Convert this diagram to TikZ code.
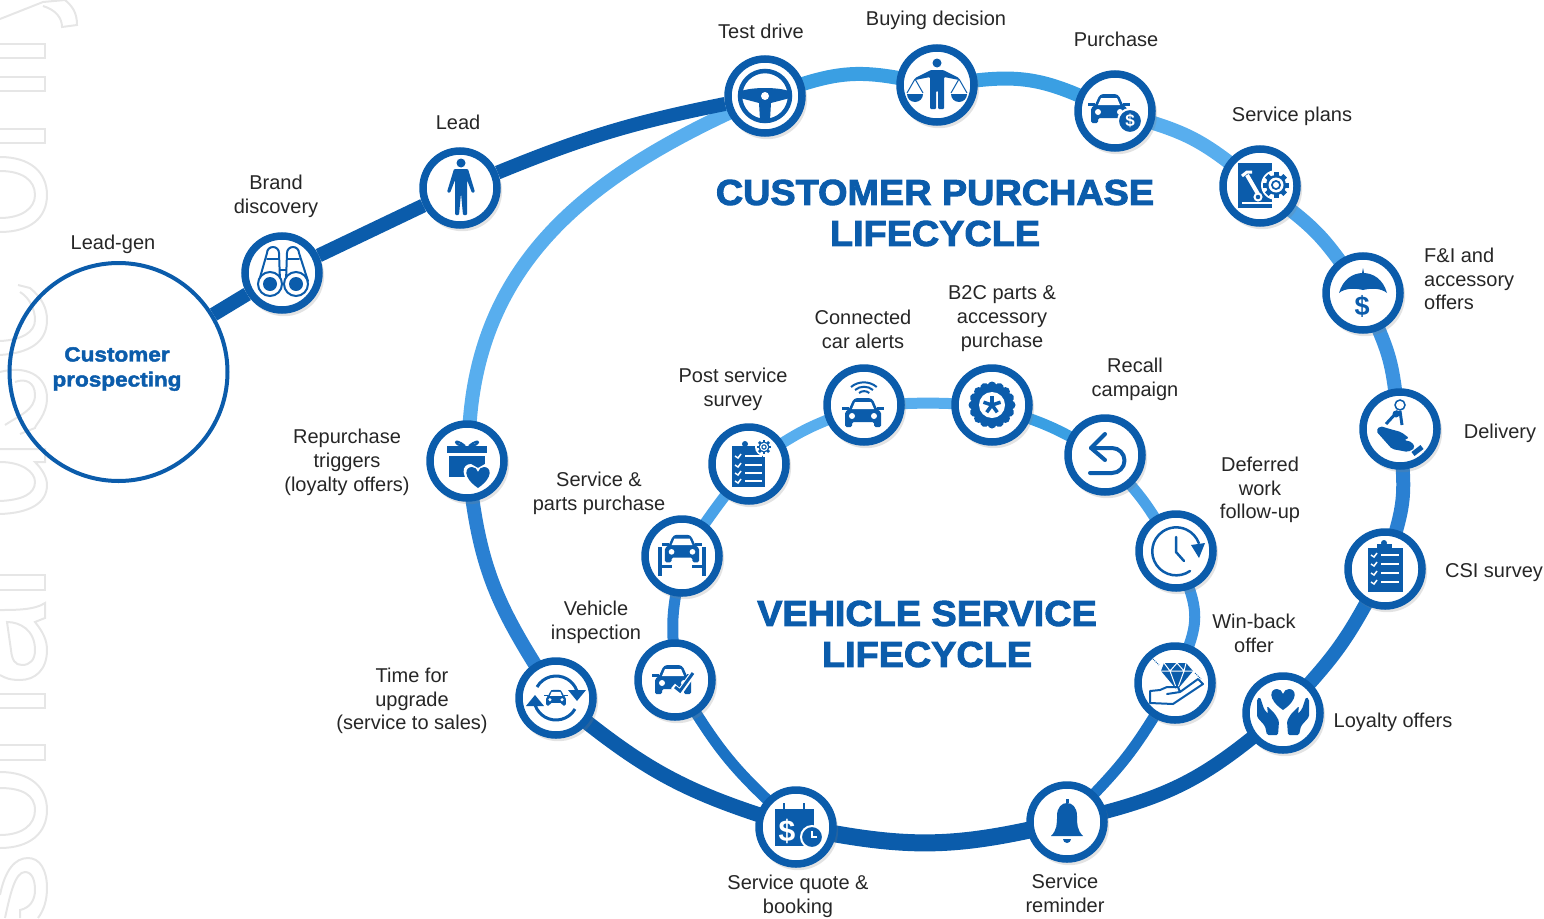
\documentclass[tikz,border=0pt]{standalone}
\usepackage{fontspec}
\setmainfont{Liberation Sans}
\newfontfamily\heavyfont{Liberation Sans Bold}[FakeBold=2.6,FakeStretch=1.05]
\newfontfamily\widefont{Liberation Sans Bold}[FakeBold=2.2,FakeStretch=1.1]
\usetikzlibrary{backgrounds,shadows}
\definecolor{ringblue}{HTML}{0B5CAB}
\definecolor{skyblue}{HTML}{58AEEE}
\definecolor{topblue}{HTML}{3A9FE3}
\definecolor{sideblue}{HTML}{4AA2E8}
\definecolor{midblue}{HTML}{3C93E0}
\definecolor{lowblue}{HTML}{2A80D2}
\definecolor{deepblue}{HTML}{1B72C4}
\definecolor{markgrey}{HTML}{E6E6E6}
\tikzset{
	stage/.style={circle, draw=ringblue, line width=7.5pt, fill=white, minimum size=74pt, inner sep=0pt,
		drop shadow={shadow xshift=2pt, shadow yshift=-3pt, shadow scale=1.08, opacity=0.22}},
	track/.style={line width=14pt, shorten >=-3pt, shorten <=-3pt},
	innertrack/.style={line width=11pt, shorten >=-3pt, shorten <=-3pt},
	caption/.style={align=center, text=black!85, font=\fontsize{20}{23.7}\selectfont},
	heading/.style={align=center, text=ringblue, font=\heavyfont\fontsize{36}{41}\selectfont},
	ico/.style={fill=ringblue},
	icoline/.style={draw=ringblue, line width=2.5pt, line cap=round, line join=round},
	ghost/.style={draw=markgrey, line width=2pt}
}
\newcommand{\icocar}{
	\fill[ico, rounded corners=1.5pt] (-18,-14) -- (-18,1) -- (-14,4) -- (-10,13) -- (-7,15) -- (7,15) -- (10,13) -- (14,4) -- (18,1) -- (18,-14) -- (11,-14) -- (11,-9) -- (-11,-9) -- (-11,-14) -- cycle;
	\fill[ico] (-21,6) rectangle (-14,3);
	\fill[ico] (14,6) rectangle (21,3);
	\fill[white] (-8,11) -- (8,11) -- (11,4) -- (-11,4) -- cycle;
	\fill[white] (-11,-3) circle(3);
	\fill[white] (11,-3) circle(3);
}
\newcommand{\icoheart}{
	\fill[ico] (0,-10) .. controls (-16,1) and (-13,11) .. (-6,11) .. controls (-3,11) and (-1,9) .. (0,6) .. controls (1,9) and (3,11) .. (6,11) .. controls (13,11) and (16,1) .. (0,-10);
}
\newcommand{\icogear}{
	\foreach \a in {0,45,...,315}
		\fill[ico, rotate=\a] (-2.5,8) rectangle (2.5,13);
	\fill[ico] (0,0) circle(10);
	\fill[white] (0,0) circle(7.5);
	\fill[ico] (0,0) circle(5);
	\fill[white] (0,0) circle(3);
}
\begin{document}
\begin{tikzpicture}[x=1pt, y=1pt]
	\useasboundingbox (0,0) rectangle (1544,-918);

	\node[stage] (brand) at (282,-273) {};
	\node[stage] (lead) at (460,-188) {};
	\node[stage] (test) at (765,-96) {};
	\node[stage] (buying) at (937,-85) {};
	\node[stage] (purchase) at (1115,-111) {};
	\node[stage] (plans) at (1260,-186) {};
	\node[stage] (fi) at (1363,-293) {};
	\node[stage] (delivery) at (1400,-429) {};
	\node[stage] (csi) at (1385,-569) {};
	\node[stage] (loyalty) at (1283,-713) {};
	\node[stage] (reminder) at (1067,-822) {};
	\node[stage] (quote) at (796,-827) {};
	\node[stage] (upgrade) at (556,-698) {};
	\node[stage] (repurchase) at (467,-461) {};
	\node[stage] (inspection) at (675,-680) {};
	\node[stage] (parts) at (682,-556) {};
	\node[stage] (post) at (749,-464) {};
	\node[stage] (connected) at (864,-405) {};
	\node[stage] (btoc) at (992,-405) {};
	\node[stage] (recall) at (1105,-455) {};
	\node[stage] (deferred) at (1176,-551) {};
	\node[stage] (winback) at (1175,-683) {};
	\node[circle, draw=ringblue, line width=4pt, minimum size=218pt, inner sep=0pt] (prospect) at (118.5,-372) {};

	\begin{scope}[on background layer]
		\draw[ghost] (0,-19) -- (43,-2) -- (65,0) (65,0) .. controls (72,-6) and (77,-12) .. (77,-25) -- (62,-27) .. controls (62,-18) and (56,-10) .. (43,-6);
		\draw[ghost] (-5,-44) rectangle (45,-58);
		\draw[ghost] (-5,-77) rectangle (45,-91);
		\draw[ghost] (-5,-129) rectangle (45,-143);
		\draw[ghost] (0,-157) .. controls (30,-157) and (47,-172) .. (47,-195) .. controls (47,-218) and (30,-232) .. (0,-232);
		\draw[ghost] (0,-171) .. controls (22,-171) and (35,-180) .. (35,-195) .. controls (35,-208) and (22,-218) .. (0,-218);
		\draw[ghost] (18,-285) -- (30,-288) .. controls (42,-298) and (47,-308) .. (47,-320) .. controls (47,-342) and (30,-353) .. (0,-355);
		\draw[ghost] (20,-292) .. controls (30,-298) and (35,-310) .. (35,-320) .. controls (35,-332) and (22,-340) .. (0,-341);
		\draw[ghost] (0,-372) .. controls (25,-365) and (47,-375) .. (47,-398) .. controls (47,-415) and (35,-425) .. (35,-428) -- (20,-434);
		\draw[ghost] (5,-425) .. controls (20,-415) and (35,-410) .. (35,-395) .. controls (35,-382) and (25,-378) .. (15,-382);
		\draw[ghost] (0,-449) -- (45,-449) -- (45,-462) -- (35,-462) .. controls (43,-470) and (47,-478) .. (47,-485) .. controls (47,-503) and (30,-513) .. (0,-514);
		\draw[ghost] (0,-462) .. controls (22,-462) and (35,-472) .. (35,-482) .. controls (35,-494) and (22,-500) .. (0,-501);
		\draw[ghost] (-5,-575) rectangle (45,-590);
		\draw[ghost] (0,-610) .. controls (15,-610) and (35,-610) .. (45,-603) -- (45,-618) -- (35,-622) .. controls (43,-632) and (47,-640) .. (47,-650) .. controls (47,-670) and (35,-680) .. (20,-680) .. controls (10,-680) and (5,-678) .. (0,-675);
		\draw[ghost] (7,-622) .. controls (20,-622) and (35,-630) .. (35,-650) .. controls (35,-660) and (30,-665) .. (22,-665) .. controls (15,-665) and (12,-660) .. (11,-650) -- cycle;
		\draw[ghost] (-5,-694) rectangle (45,-708);
		\draw[ghost] (-5,-745) rectangle (45,-760);
		\draw[ghost] (0,-772) .. controls (30,-772) and (47,-787) .. (47,-810) .. controls (47,-833) and (30,-848) .. (0,-848);
		\draw[ghost] (0,-788) .. controls (22,-788) and (35,-795) .. (35,-810) .. controls (35,-825) and (22,-835) .. (0,-835);
		\draw[ghost] (0,-895) .. controls (5,-870) and (15,-858) .. (28,-858) .. controls (40,-858) and (47,-870) .. (47,-888) .. controls (47,-900) and (44,-910) .. (38,-918);
		\draw[ghost] (5,-918) .. controls (10,-895) and (15,-872) .. (25,-872) .. controls (32,-872) and (35,-880) .. (35,-890) .. controls (35,-900) and (30,-908) .. (20,-910) -- (20,-918);

		\draw[line width=14pt, ringblue] (prospect) -- (brand);
		\draw[line width=14pt, ringblue] (brand) -- (lead);
		\draw[track, skyblue] (repurchase) to[out=86, in=205] (test);
		\draw[line width=14pt, ringblue] (lead) to[bend left=5.5] (test);
		\draw[track, topblue] (test) to[bend left=14] (buying);
		\draw[track, topblue] (buying) to[bend left=15] (purchase);
		\draw[track, skyblue] (purchase) to[bend left=10] (plans);
		\draw[track, sideblue] (plans) to[bend left=8] (fi);
		\draw[track, midblue] (fi) to[bend left=8] (delivery);
		\draw[track, lowblue] (delivery) to[bend left=10] (csi);
		\draw[track, deepblue] (csi) to[bend left=6.5] (loyalty);
		\draw[track, ringblue] (loyalty) to[bend left=12] (reminder);
		\draw[track, ringblue, line width=17pt] (reminder) to[bend left=11] (quote);
		\draw[track, ringblue, line width=15pt] (quote) to[bend left=10] (upgrade);
		\draw[track, lowblue] (upgrade) to[out=122, in=-82] (repurchase);

		\draw[innertrack, deepblue] (quote) to[bend left=7] (inspection);
		\draw[innertrack, lowblue] (inspection) to[bend left=6] (parts);
		\draw[innertrack, sideblue] (parts) to[bend left=1] (post);
		\draw[innertrack, skyblue] (post) to[bend left=5] (connected);
		\draw[innertrack, skyblue] (connected) to[bend left=2] (btoc);
		\draw[innertrack, topblue] (btoc) to[bend left=4] (recall);
		\draw[innertrack, sideblue] (recall) to[bend left=4] (deferred);
		\draw[innertrack, midblue] (deferred) to[bend left=20] (winback);
		\draw[innertrack, deepblue] (winback) to[bend left=6] (reminder);
	\end{scope}

	\begin{scope}[shift={(brand)}]
		\draw[icoline, line width=2pt] (-23,-8) -- (-15,20) arc (180:0:6) -- (-2,-8);
		\draw[icoline, line width=2pt] (4,-8) -- (5,20) arc (180:0:6) -- (26,-8);
		\draw[icoline, line width=2pt] (-15,14) -- (-3,14) (5,14) -- (17,14) (-2,3) -- (4,3);
		\fill[white, draw=ringblue, line width=2pt] (-12,-11) circle(12);
		\fill[white, draw=ringblue, line width=2pt] (14,-11) circle(12);
		\fill[ico] (-12,-11) circle(7);
		\fill[ico] (14,-11) circle(7);
	\end{scope}

	\begin{scope}[shift={(lead)}]
		\fill[ico] (1,25) circle(4.5);
		\fill[ico, rounded corners=1pt] (-6,19) -- (8,19) -- (15,-4) -- (12,-5) -- (7,8) -- (7,-27) -- (3,-27) -- (1,-5) -- (-1,-27) -- (-5,-27) -- (-5,8) -- (-10,-5) -- (-13,-4) -- cycle;
	\end{scope}

	\begin{scope}[shift={(test)}]
		\draw[ringblue, line width=4.5pt] (0,0) circle(25);
		\fill[ico] (-24,5) .. controls (-12,9) and (12,9) .. (24,5) -- (25,-2) -- (6,-7) -- (5,-24) -- (-5,-24) -- (-6,-7) -- (-25,-2) -- cycle;
		\fill[white] (0,0) circle(4);
	\end{scope}

	\begin{scope}[shift={(buying)}]
		\fill[ico] (0,22) circle(4.5);
		\fill[ico, rounded corners=1pt] (-6,15) -- (6,15) -- (22,7) -- (22,5) -- (7,8) -- (7,-24) -- (1,-24) -- (1,-6) -- (-1,-6) -- (-1,-24) -- (-7,-24) -- (-7,8) -- (-22,5) -- (-22,7) -- cycle;
		\foreach \s in {1,-1} {
			\draw[ringblue, line width=1pt] (\s*22,6) -- (\s*22-8,-8) (\s*22,6) -- (\s*22+8,-8);
			\fill[ico] (\s*22-8,-9) arc (180:360:8);
		}
	\end{scope}

	\begin{scope}[shift={(purchase)}]
		\begin{scope}[shift={(-6,2)}]
			\icocar
		\end{scope}
		\fill[ico, draw=white, line width=2pt] (15,-10) circle(12);
		\node[text=white, font=\bfseries\fontsize{17}{17}\selectfont, inner sep=0pt] (purchasedollar) at (15,-10) {\$};
	\end{scope}

	\begin{scope}[shift={(plans)}]
		\fill[ico] (-22,23) -- (12,23) -- (12,-22) -- (-22,-22) -- cycle;
		\draw[white, line width=1.5pt] (-18,-17) -- (13,-17);
		\draw[white, line width=4pt] (-13,11) -- (-2,-8);
		\draw[white, line width=2pt] (-2,-11) circle(3.5);
		\draw[white, line width=3pt] (-18,10) -- (-13,14) -- (-8,14);
		\fill[white] (16,1) circle(15);
		\begin{scope}[shift={(16,1)}]
			\icogear
		\end{scope}
	\end{scope}

	\begin{scope}[shift={(fi)}]
		\fill[ico] (-24,0) .. controls (-20,14) and (-10,20) .. (0,20) .. controls (10,20) and (20,14) .. (24,0) .. controls (18,5) and (8,5) .. (0,3) .. controls (-8,5) and (-18,5) .. (-24,0);
		\fill[ico] (-1,20) -- (0,25) -- (1,20) -- cycle;
		\node[text=ringblue, font=\bfseries\fontsize{27}{27}\selectfont, inner sep=0pt] (fidollar) at (-1,-13) {\$};
	\end{scope}

	\begin{scope}[shift={(delivery)}]
		\draw[ringblue, line width=1.5pt] (0,24) circle(5);
		\draw[ringblue, line width=3pt] (-2,18) -- (-14,5) (0,18) -- (2,4);
		\fill[ico] (-4,15) circle(3.5);
		\fill[ico, rounded corners=2pt] (-24,-2) -- (-20,3) -- (-10,0) -- (1,-3) -- (9,-9) -- (4,-11) -- (12,-13) -- (15,-19) -- (8,-23) -- (-8,-20) -- cycle;
		\draw[ringblue, line width=5pt] (13,-25) -- (22,-18);
	\end{scope}

	\begin{scope}[shift={(csi)}]
		\fill[ico] (-17,21) rectangle (18,-23);
		\fill[ico] (-8,21) rectangle (7,25);
		\fill[ico] (-1,26) circle(3);
		\foreach \yy in {14,5,-4,-13} {
			\draw[white, line width=1.5pt] (-14,\yy) -- (-11,\yy-2) -- (-8,\yy+2);
			\draw[white, line width=1.5pt] (-4,\yy) -- (14,\yy);
		}
	\end{scope}

	\begin{scope}[shift={(loyalty)}]
		\begin{scope}[shift={(0,13)}]
			\icoheart
		\end{scope}
		\foreach \s in {1,-1} {
			\begin{scope}[xscale=\s]
				\fill[ico, rounded corners=1.5pt] (23,16) -- (26,14) -- (26,-4) -- (18,-13) -- (16,-22) -- (5,-22) -- (4,-8) -- (8,-1) -- (16,7) -- (15,-1) -- (19,4) -- cycle;
			\end{scope}
		}
	\end{scope}

	\begin{scope}[shift={(reminder)}]
		\fill[ico] (-1.5,19) rectangle (1.5,23);
		\fill[ico] (-16,-14) .. controls (-10,-8) and (-10,-2) .. (-10,6) .. controls (-10,15) and (-5,19) .. (0,19) .. controls (5,19) and (10,15) .. (10,6) .. controls (10,-2) and (10,-8) .. (16,-14) -- cycle;
		\fill[ico] (-4,-17) arc (180:360:4);
	\end{scope}

	\begin{scope}[shift={(quote)}]
		\fill[ico] (-21,18) rectangle (18,-19);
		\draw[white, line width=4pt] (-12,18) -- (-12,25) (8,18) -- (8,25);
		\draw[ringblue, line width=2pt] (-12,17) -- (-12,24) (8,17) -- (8,24);
		\node[text=white, font=\bfseries\fontsize{30}{30}\selectfont, inner sep=0pt] (quotedollar) at (-9,-4) {\$};
		\fill[ico, draw=white, line width=2pt] (16,-10) circle(11);
		\draw[white, line width=1.5pt] (16,-4) -- (16,-10) -- (21,-10);
	\end{scope}

	\begin{scope}[shift={(upgrade)}]
		\begin{scope}[scale=0.55]
			\icocar
		\end{scope}
		\draw[ringblue, line width=3pt] (-19,11) arc (150:20:22);
		\draw[ringblue, line width=3pt] (19,-11) arc (-30:-160:22);
		\fill[ico] (12,8) -- (30,8) -- (21,-3) -- cycle;
		\fill[ico] (-12,-8) -- (-30,-8) -- (-21,3) -- cycle;
	\end{scope}

	\begin{scope}[shift={(repurchase)}]
		\draw[ringblue, line width=2pt] (-2,15) .. controls (-14,25) and (-14,15) .. (-2,15);
		\draw[ringblue, line width=2pt] (2,15) .. controls (14,25) and (14,15) .. (2,15);
		\fill[ico] (-20,15) rectangle (20,8);
		\fill[ico] (-18,5) rectangle (18,-16);
		\begin{scope}[shift={(11,-17)}]
			\fill[white] (0,-14) .. controls (-20,2) and (-16,14) .. (-7,14) -- (0,10) -- (7,14) .. controls (16,14) and (20,2) .. (0,-14);
			\icoheart
		\end{scope}
	\end{scope}

	\begin{scope}[shift={(inspection)}]
		\begin{scope}[shift={(-2,0)}]
			\icocar
		\end{scope}
		\draw[white, line width=6pt] (-2,-6) -- (5,-12) -- (19,8);
		\draw[ringblue, line width=3pt] (0,-7) -- (5,-11) -- (18,7);
	\end{scope}

	\begin{scope}[shift={(parts)}]
		\begin{scope}[shift={(0,7)}, scale=0.95]
			\icocar
		\end{scope}
		\draw[ringblue, line width=4pt] (-22,9) -- (-22,-20) (22,9) -- (22,-20);
		\draw[ringblue, line width=3pt] (-22,-10) -- (-10,-10) (22,-10) -- (10,-10);
	\end{scope}

	\begin{scope}[shift={(post)}]
		\fill[ico] (-17,7) rectangle (16,-23);
		\fill[ico] (-17,18) rectangle (14,5);
		\fill[ico] (-4,20) circle(3);
		\foreach \yy in {8,-1,-9,-17} {
			\draw[white, line width=1.5pt] (-14,\yy) -- (-11,\yy-2) -- (-8,\yy+2);
			\draw[white, line width=1.5pt] (-4,\yy) -- (13,\yy);
		}
		\fill[white] (15,17) circle(9);
		\begin{scope}[shift={(15,17)}, scale=0.55]
			\icogear
		\end{scope}
	\end{scope}

	\begin{scope}[shift={(connected)}]
		\begin{scope}[shift={(-1,-8)}]
			\icocar
		\end{scope}
		\draw[ringblue, line width=2pt] (-5,12) arc (130:50:8);
		\draw[ringblue, line width=2pt] (-9,15) arc (130:50:14);
		\draw[ringblue, line width=2pt] (-13,18) arc (130:50:20);
	\end{scope}

	\begin{scope}[shift={(btoc)}]
		\fill[ico] (0,0) circle(21);
		\foreach \a in {0,22.5,...,337.5}
			\fill[ico, rotate=\a] (0,19) circle(4.5);
		\fill[white] (0,0) circle(13);
		\fill[ico] (0,0) circle(3);
		\foreach \a in {18,90,162,234,306}
			\draw[ringblue, line width=3.5pt, rotate=\a] (0,0) -- (9,0);
	\end{scope}

	\begin{scope}[shift={(recall)}]
		\draw[icoline, line width=4pt] (0,21) -- (-14,7) -- (0,-5);
		\draw[icoline, line width=4pt] (-14,7) -- (7,7) arc (90:-90:12.5) -- (-15,-18);
	\end{scope}

	\begin{scope}[shift={(deferred)}]
		\draw[icoline] (14,-20) arc (-55:-340:24);
		\fill[ico] (15,6) -- (29,8) -- (23,-7) -- cycle;
		\draw[icoline] (0,14) -- (0,-1) -- (8,-10);
	\end{scope}

	\begin{scope}[shift={(winback)}]
		\fill[ico] (-11,20) -- (11,20) -- (18,12) -- (2,-7) -- (-14,12) -- cycle;
		\draw[white, line width=1pt] (-14,12) -- (18,12) (-5,12) -- (2,-7) -- (9,12) (-11,20) -- (-5,12) -- (2,20) -- (9,12) -- (11,20);
		\draw[ringblue, line width=1pt, densely dotted] (-22,24) -- (-16,18) (20,10) -- (26,4);
		\draw[icoline, line width=2pt] (-25,-8) -- (-25,-20) -- (-2,-21) -- (28,-1) -- (23,4) -- (5,-9) -- (-8,-11) (5,-9) -- (3,-4) -- (-8,-4) -- (-15,-7) -- (-25,-8);
	\end{scope}

	\node[caption] (leadgenlabel) at (113,-244) {Lead-gen};
	\node[caption] (brandlabel) at (276,-196.5) {Brand\\discovery};
	\node[caption] (leadlabel) at (458,-122) {Lead};
	\node[caption] (testlabel) at (761,-31) {Test drive};
	\node[caption] (buyinglabel) at (936,-20) {Buying decision};
	\node[caption] (purchaselabel) at (1116,-39) {Purchase};
	\node[caption] (planslabel) at (1292,-116) {Service plans};
	\node[caption, align=left, anchor=west, inner sep=0pt] (filabel) at (1424,-279) {F\&I and\\accessory\\offers};
	\node[caption] (deliverylabel) at (1500,-433) {Delivery};
	\node[caption] (csilabel) at (1494,-573) {CSI survey};
	\node[caption] (loyaltylabel) at (1393,-722) {Loyalty offers};
	\node[caption] (reminderlabel) at (1065,-893) {Service\\reminder};
	\node[caption] (quotelabel) at (798,-896.5) {Service quote \&\\booking};
	\node[caption] (upgradelabel) at (412,-701) {Time for\\upgrade\\(service to sales)};
	\node[caption] (repurchaselabel) at (347,-462.5) {Repurchase\\triggers\\(loyalty offers)};
	\node[caption] (inspectionlabel) at (596,-622) {Vehicle\\inspection};
	\node[caption] (partslabel) at (599,-493) {Service \&\\parts purchase};
	\node[caption] (postlabel) at (733,-389) {Post service\\survey};
	\node[caption] (connectedlabel) at (863,-329) {Connected\\car alerts};
	\node[caption] (btoclabel) at (1002,-318.5) {B2C parts \&\\accessory\\purchase};
	\node[caption] (recalllabel) at (1135,-379) {Recall\\campaign};
	\node[caption] (deferredlabel) at (1260,-490) {Deferred\\work\\follow-up};
	\node[caption] (winbacklabel) at (1254,-633) {Win-back\\offer};
	\node[heading] (purchasetitle) at (935,-213) {CUSTOMER PURCHASE\\LIFECYCLE};
	\node[heading] (servicetitle) at (927,-634) {VEHICLE SERVICE\\LIFECYCLE};
	\node[heading, font=\widefont\fontsize{20.5}{25}\selectfont] (prospecttitle) at (117,-369) {Customer\\prospecting};
\end{tikzpicture}
\end{document}
